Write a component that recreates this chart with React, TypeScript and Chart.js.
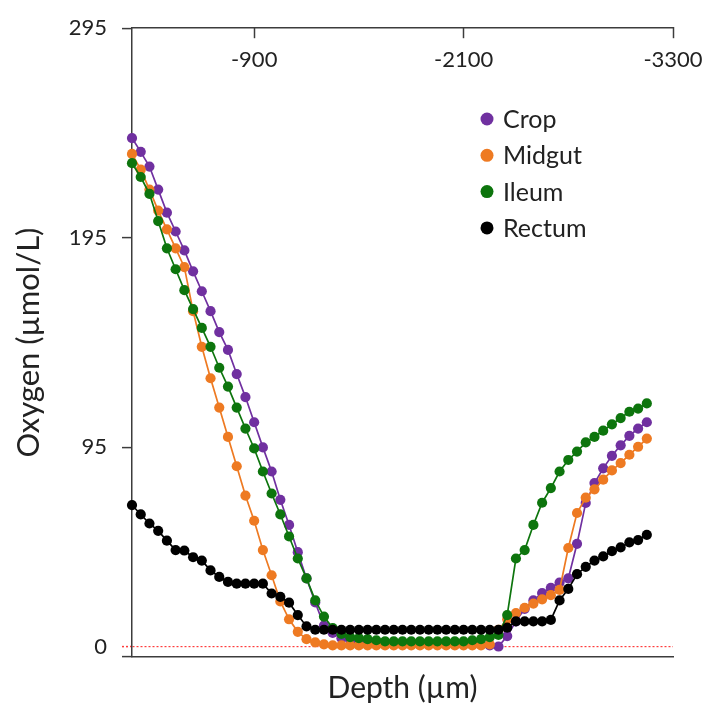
import { useEffect, useRef } from 'react';
import { Chart, registerables } from 'chart.js';

Chart.register(...registerables);

// Depth positions (µm)
const depthUm = [
  -200, -250, -300, -350, -400, -450, -500, -550, -600, -650,
  -700, -750, -800, -850, -900, -950, -1000, -1050, -1100, -1150,
  -1200, -1250, -1300, -1350, -1400, -1450, -1500, -1550, -1600, -1650,
  -1700, -1750, -1800, -1850, -1900, -1950, -2000, -2050, -2100, -2150,
  -2200, -2250, -2300, -2350, -2400, -2450, -2500, -2550, -2600, -2650,
  -2700, -2750, -2800, -2850, -2900, -2950, -3000, -3050, -3100, -3150,
];

const cropO2 = [
  242.6, 236, 229, 218, 207, 198, 189, 179, 169.5, 160,
  150, 141.5, 130, 119, 107, 95, 83.5, 70, 58, 45,
  32.5, 21, 10, 6.5, 4, 3, 2.5, 2, 2, 2,
  1.5, 1.5, 1.5, 1.5, 1.5, 1.5, 1.5, 1.5, 1.5, 1,
  1, 0.5, 0, 5, 12, 18, 22, 25.5, 28, 30.5,
  32.5, 49, 68.5, 78, 85, 91, 96, 100.5, 104, 107,
];

const midgutO2 = [
  235, 227.5, 218, 208, 199, 190, 181, 160, 143, 128,
  114, 100, 86, 72, 60, 46, 34, 21.5, 13, 7,
  3.5, 2, 1, 0.5, 0.5, 0.5, 0.5, 0.5, 0.5, 0.5,
  0.5, 0.5, 0.5, 0.5, 0.5, 0.5, 0.5, 0.5, 0.5, 0.5,
  0.5, 1, 8, 13, 16, 18.5, 20.5, 22.5, 24.5, 27,
  47, 63.7, 71, 75, 79.6, 84, 87.5, 91.5, 95.3, 99.2,
];

const ileumO2 = [
  230.6, 224, 216, 203, 190, 180, 170, 161, 152, 143,
  133, 124, 114, 104, 94.5, 83.5, 73, 63, 52.5, 42,
  32.5, 22, 14.3, 8.8, 6, 4.5, 4, 3.5, 3, 2.5,
  2.5, 2.5, 2.5, 2.5, 2.5, 2.5, 2.5, 2.5, 2.5, 3,
  3.5, 4.5, 5.5, 15, 42, 46, 58, 68.6, 75.6, 83.5,
  89, 93, 97.4, 100, 103, 106, 109, 112, 113.5, 116,
];

const rectumO2 = [
  67.5, 63, 58.7, 55.2, 50.5, 46, 45.8, 42.6, 41, 36.3,
  33.2, 30.8, 30, 30, 30, 30, 25.3, 23.7, 20.9, 15,
  9.6, 8, 8, 8, 8, 8, 8, 8, 8, 8,
  8, 8, 8, 8, 8, 8, 8, 8, 8, 8,
  8, 8, 8, 9, 12, 12, 12, 12, 12.7, 22,
  27.5, 34.5, 38, 41, 43, 45.5, 47.3, 49.7, 50.8, 53.3,
];

const seriesNames = ['Crop', 'Midgut', 'Ileum', 'Rectum'];
const seriesColors = ['#7030A0', '#EE7A22', '#0D750D', '#000000'];
const seriesValues = [cropO2, midgutO2, ileumO2, rectumO2];

const xTickValues = [-900, -2100, -3300];
const yTickValues = [-5, 0, 95, 195, 295];

const AXIS_COLOR = '#3c3c3c';
const TEXT_COLOR = '#222222';
const FONT = 'Lato';

const legendPlugin = {
  id: 'insideLegend',
  afterDraw(chart: any) {
    const ctx = chart.ctx;
    ctx.save();
    ctx.font = `25px ${FONT}`;
    ctx.textBaseline = 'middle';
    ctx.textAlign = 'left';
    chart.data.datasets.forEach((ds: any, i: number) => {
      const y = 119 + i * 36.3;
      ctx.beginPath();
      ctx.fillStyle = ds.backgroundColor;
      ctx.arc(487, y, 6.5, 0, Math.PI * 2);
      ctx.fill();
      ctx.fillStyle = TEXT_COLOR;
      ctx.fillText(ds.label, 503, y + 1);
    });
    ctx.restore();
  },
};

// Top-axis tick labels sit below the axis line, inside the plot
const topTickLabelPlugin = {
  id: 'topTickLabels',
  afterDraw(chart: any) {
    const sc = chart.scales.x;
    const ctx = chart.ctx;
    ctx.save();
    ctx.font = `22px ${FONT}`;
    ctx.fillStyle = TEXT_COLOR;
    ctx.textAlign = 'center';
    ctx.textBaseline = 'middle';
    sc.ticks.forEach((t: any) => {
      ctx.fillText(String(t.value), sc.getPixelForValue(t.value), 60);
    });
    ctx.restore();
  },
};

export default function App() {
  const canvasRef = useRef<HTMLCanvasElement | null>(null);

  useEffect(() => {
    document.body.style.margin = '0';
    const canvas = canvasRef.current;
    if (!canvas) return;

    const datasets = seriesNames.map((name, s) => ({
      label: name,
      data: depthUm.map((d, i) => ({ x: d, y: seriesValues[s][i] })),
      borderColor: seriesColors[s],
      backgroundColor: seriesColors[s],
      pointBackgroundColor: seriesColors[s],
      pointBorderColor: seriesColors[s],
      pointRadius: 5.1,
      pointBorderWidth: 0,
      borderWidth: 1.7,
      tension: 0,
      clip: false as any,
      order: seriesNames.length - s,
      xAxisID: 'x',
      yAxisID: 'y',
    }));

    const chart = new Chart(canvas, {
      type: 'line',
      data: { datasets },
      plugins: [legendPlugin, topTickLabelPlugin],
      options: {
        responsive: false,
        animation: false,
        events: [],
        layout: { padding: { left: 0, right: 35, top: 22, bottom: 0 } },
        plugins: {
          legend: { display: false },
          tooltip: { enabled: false },
          title: { display: false },
        },
        scales: {
          x: {
            type: 'linear',
            position: 'top',
            reverse: true,
            min: -3300,
            max: -200,
            afterBuildTicks: (scale: any) => {
              scale.ticks = xTickValues.map((v) => ({ value: v }));
            },
            afterFit: (scale: any) => {
              scale.height = 0;
            },
            ticks: { display: false, autoSkip: false },
            grid: {
              display: true,
              drawOnChartArea: false,
              drawTicks: true,
              tickLength: -10,
              tickColor: AXIS_COLOR,
              tickWidth: 1.5,
            },
            border: { display: true, color: AXIS_COLOR, width: 1.5 },
          },
          xb: {
            type: 'linear',
            position: 'bottom',
            reverse: true,
            min: -3300,
            max: -200,
            afterFit: (scale: any) => {
              scale.height = 52;
            },
            ticks: { display: false },
            grid: { display: false },
            border: { display: true, color: AXIS_COLOR, width: 1.5 },
            title: {
              display: true,
              text: 'Depth (µm)',
              color: TEXT_COLOR,
              font: { family: FONT, size: 30 },
              padding: { top: 0, bottom: 3 },
            },
          },
          y: {
            type: 'linear',
            position: 'left',
            min: -5,
            max: 295,
            afterBuildTicks: (scale: any) => {
              scale.ticks = yTickValues.map((v) => ({ value: v }));
            },
            afterFit: (scale: any) => {
              scale.width = 132;
            },
            ticks: {
              autoSkip: false,
              padding: 15,
              color: TEXT_COLOR,
              font: { family: FONT, size: 22 },
              callback: (v: any) => (v === -5 ? '' : String(v)),
            },
            grid: {
              display: true,
              drawOnChartArea: true,
              drawTicks: true,
              tickLength: 10,
              lineWidth: 1.2,
              color: (c: any) => (c.tick && c.tick.value === 0 ? 'rgba(255,40,40,0.9)' : 'rgba(0,0,0,0)'),
              tickColor: (c: any) => (c.tick && c.tick.value === 0 ? 'rgba(255,40,40,0.9)' : AXIS_COLOR),
              tickWidth: 1.5,
              tickBorderDash: (c: any) => (c.tick && c.tick.value === 0 ? [2, 2] : []),
            },
            border: { display: true, color: AXIS_COLOR, width: 1.5, dash: [2, 2] },
            title: {
              display: true,
              text: 'Oxygen (µmol/L)',
              color: TEXT_COLOR,
              font: { family: FONT, size: 31 },
              padding: { top: 10, bottom: 0 },
            },
          },
        },
      } as any,
    });

    return () => {
      chart.destroy();
    };
  }, []);

  return (
    <div style={{ width: 708, height: 709 }}>
      <canvas ref={canvasRef} width={708} height={709} style={{ display: 'block', width: 708, height: 709 }} />
    </div>
  );
}
